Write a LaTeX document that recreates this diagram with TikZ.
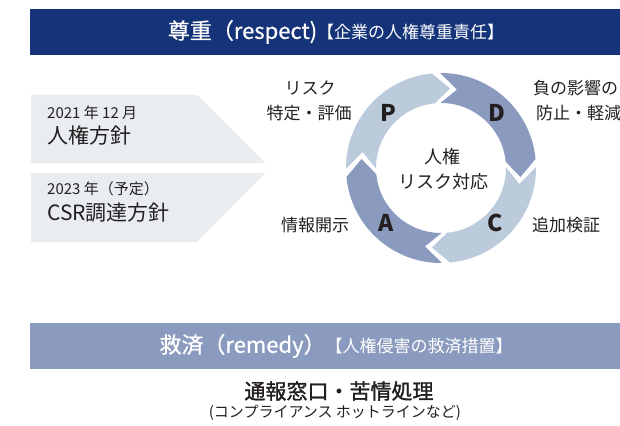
\documentclass[tikz,border=0pt]{standalone}
\usepackage{fontspec}
\setmainfont{Noto Sans CJK JP}
\newfontfamily\jpsemi[FakeBold=1.4]{Noto Sans CJK JP}
\newfontfamily\jpbar[FakeBold=0.6]{Noto Sans CJK JP}
\usetikzlibrary{positioning}

\definecolor{hdrblue}{HTML}{143379}
\definecolor{ringlight}{HTML}{BBCBDC}
\definecolor{ringdark}{HTML}{8B9BBF}
\definecolor{boxgray}{HTML}{E9EDF1}
\definecolor{inkgray}{HTML}{231F20}

% one quarter of the cycle ring: #1 start angle, #2 colour
\newcommand{\ringpart}[2]{%
  \fill[#2] (#1+2.5:95) arc[start angle=#1+2.5, end angle=#1+87.5, radius=95]
    -- (#1+99.5:80) -- (#1+87.5:65)
    arc[start angle=#1+87.5, end angle=#1+2.5, radius=65]
    -- (#1+14.5:80) -- cycle;}
\newcommand{\fs}[1]{\fontsize{#1}{#1}\selectfont}

\begin{document}
\begin{tikzpicture}[x=1pt, y=-1pt,
    txt/.style={inner sep=0pt, text=inkgray},
    bartxt/.style={inner sep=0pt, text=white},
    side/.style={txt, font=\fs{17}},
    phase/.style={txt, font=\fs{23}\bfseries}]
    \useasboundingbox (0,0) rectangle (620,425);

    % Respect bar
    \fill[hdrblue] (30,9) rectangle (620,55);
    \node[bartxt] (respect) at (336,32) {{\jpbar\fs{22}尊重（respect)}\fs{17}【企業の人権尊重責任】};

    % Policy arrows
    \fill[boxgray] (31,95) -- (197,95) -- (265,163) -- (31,163) -- cycle;
    \fill[boxgray] (31,173) -- (265,173) -- (197,242) -- (31,242) -- cycle;
    \node[txt, anchor=west, font=\fs{15}] (yearA) at (47,113) {2021 年 12 月};
    \node[txt, anchor=west, font=\fs{21}] (policyA) at (47,136) {人権方針};
    \node[txt, anchor=west, font=\fs{15}] (yearB) at (47,189) {2023 年（予定）};
    \node[txt, anchor=west, font=\fs{21}] (policyB) at (47,213) {CSR調達方針};

    % PDCA ring
    \begin{scope}[shift={(441,168)}]
        \ringpart{-183}{ringlight}
        \ringpart{-93}{ringdark}
        \ringpart{-3}{ringlight}
        \ringpart{87}{ringdark}
    \end{scope}
    \node[phase] (P) at (388,113) {P};
    \node[phase] (D) at (497,113) {D};
    \node[phase] (C) at (495,223) {C};
    \node[phase] (A) at (386,223) {A};
    \node[txt, font=\fs{18}] (core1) at (442,157) {人権};
    \node[txt, font=\fs{18}] (core2) at (443,182) {リスク対応};

    % Phase labels
    \node[side] (plan1) at (310,88) {リスク};
    \node[side] (plan2) at (309,113) {特定・評価};
    \node[side, anchor=west] (do1) at (533,88) {負の影響の};
    \node[side, anchor=west] (do2) at (536,113) {防止・軽減};
    \node[side, anchor=west] (check) at (532,225) {追加検証};
    \node[side] (act) at (315,225) {情報開示};

    % Remedy bar
    \fill[ringdark] (30,323) rectangle (620,369);
    \node[bartxt] (remedy) at (336,346) {{\jpbar\fs{22}救済（remedy）}\fs{17}【人権侵害の救済措置】};
    \node[txt, font=\fs{21}\jpsemi] (desk) at (339,391) {通報窓口・苦情処理};
    \node[txt, font=\fs{15}] (hotline) at (335,413) {(コンプライアンス ホットラインなど)};
\end{tikzpicture}
\end{document}
